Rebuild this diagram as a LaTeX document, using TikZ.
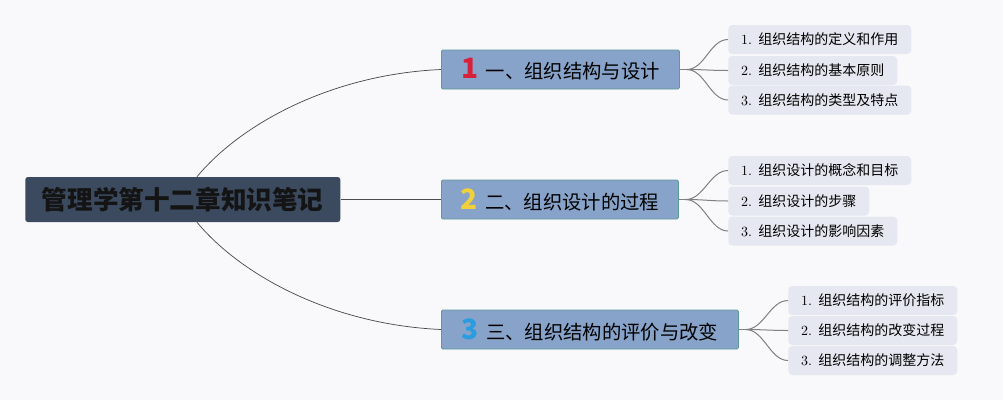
\documentclass[tikz,border=0pt]{standalone}
\usepackage{fontspec}
\newfontfamily\cjk{Noto Sans CJK SC}
\usetikzlibrary{calc}
\definecolor{bgc}{HTML}{F9F9FB}
\definecolor{rootc}{HTML}{3B4A5F}
\definecolor{brc}{HTML}{87A3C9}
\definecolor{brd}{HTML}{5E9A9A}
\definecolor{lfc}{HTML}{E5E8F0}
\definecolor{nred}{HTML}{D7203A}
\definecolor{nyel}{HTML}{F2D03B}
\definecolor{nblu}{HTML}{2B9CE0}
\tikzset{
  rt/.style={rounded corners=2pt,fill=rootc,text=black!92,inner sep=0pt,
    minimum width=236.25pt,minimum height=33.75pt,
    font=\cjk\bfseries\fontsize{19.2}{19.2}\selectfont},
  br/.style={rounded corners=1pt,fill=brc,draw=brd,line width=.6pt,inner sep=0pt,
    minimum height=29.25pt,font=\cjk\fontsize{14.5}{14.5}\selectfont},
  lf/.style={rounded corners=3pt,fill=lfc,inner sep=0pt,
    minimum height=21.75pt,font=\fontsize{10.5}{10.5}\selectfont},
  trunk/.style={draw=black!70,line width=.55pt},
  twig/.style={draw=black!50,line width=.75pt},
}
\newcommand{\brnum}[2]{{\color{#1}\cjk\bfseries\fontsize{21}{21}\selectfont #2}}

\begin{document}
\begin{tikzpicture}[x=0.75pt,y=-0.75pt]
\fill[bgc] (0,0) rectangle (1003,400);
% --- root and the three main branches
\node[rt,anchor=west] (root) at (25,199.5) {管理学第十二章知识笔记};
\node[br,anchor=west,minimum width=178.5pt] (b1) at (441,69.5)
  {\brnum{nred}{1}\, 一、组织结构与设计};
\node[br,anchor=west,minimum width=177.75pt] (b2) at (441,199.5)
  {\brnum{nyel}{2}\, 二、组织设计的过程};
\node[br,anchor=west,minimum width=222.75pt] (b3) at (441,329.5)
  {\brnum{nblu}{3}\, 三、组织结构的评价与改变};
\coordinate (s1) at ($(root.north west)+(172,0)$);
\coordinate (s3) at ($(root.south west)+(172,0)$);
\draw[trunk] (s1) .. controls +(43,-52) and +(-111,5) .. (b1.west);
\draw[trunk] (root.east) -- (b2.west);
\draw[trunk] (s3) .. controls +(43,52) and +(-111,-5) .. (b3.west);
% --- leaves
\foreach \b/\i/\x/\y/\w/\t in {
    1/1/728/39.5/137.25/组织结构的定义和作用,
    1/2/728/70.5/126.75/组织结构的基本原则,
    1/3/728/100/137.25/组织结构的类型及特点,
    2/1/728/170.5/137.25/组织设计的概念和目标,
    2/2/728/201/105.75/组织设计的步骤,
    2/3/728/231/126.75/组织设计的影响因素,
    3/1/788/300.5/126.75/组织结构的评价指标,
    3/2/788/330.5/126.75/组织结构的改变过程,
    3/3/788/360.5/126.75/组织结构的调整方法}{
  \node[lf,anchor=west,minimum width=\w pt] (l\b\i) at (\x,\y) {\i. {\cjk \t}};
}
\foreach \b in {1,2,3}{
  \coordinate (j\b) at ($(b\b.east)+(7,0)$);
  \draw[twig] (b\b.east) -- (j\b);
  \foreach \i in {1,2,3}
    \draw[twig] (j\b) .. controls +(18,0) and +(-18,0) .. (l\b\i.west);
}
\end{tikzpicture}
\end{document}
